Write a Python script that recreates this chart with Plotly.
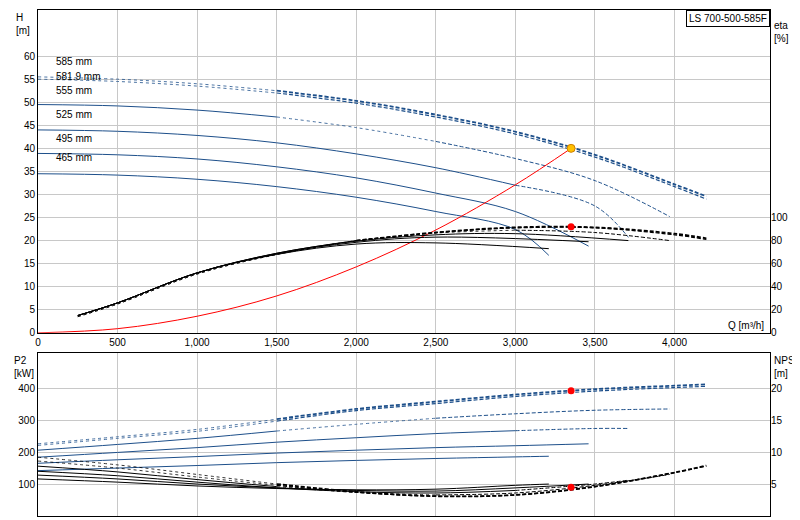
import plotly.graph_objects as go

Q = [0, 500, 1000, 1500, 2000, 2500, 3000, 3500, 4000]
diam = ["585 mm", "581.9 mm", "555 mm", "525 mm", "495 mm", "465 mm"]
q_end = [4200, 4200, 3970, 3710, 3460, 3210]
H = [
    [55.5, 55.0, 54.0, 52.5, 50.3, 47.3, 43.6, 38.6, 32.2, 29.6],
    [55.0, 54.5, 53.5, 52.0, 49.8, 46.8, 43.1, 38.1, 31.7, 29.0],
    [49.5, 49.2, 48.3, 46.8, 44.5, 41.5, 37.8, 33.0, 25.2],
    [44.0, 43.7, 42.8, 41.2, 38.8, 35.8, 32.0, 27.5, 20.7],
    [38.9, 38.6, 37.7, 36.0, 33.6, 30.3, 26.3, 18.8],
    [34.5, 34.2, 33.3, 31.7, 29.4, 26.3, 22.4, 16.8],
]
Q_eta = [250, 500, 1000, 1500, 2000, 2500, 3000, 3500, 4000]
ETA = [
    [14, 25, 51, 68, 80, 87, 91.5, 91.5, 86, 82],
    [14, 25, 51, 68, 80, 87, 91, 91, 85, 81],
    [15, 26, 52, 69, 80, 86.5, 89, 87, 80],
    [15, 26, 52, 69, 79.5, 85, 86, 80],
    [15, 26, 52, 68.5, 78.5, 83, 79],
    [15, 26, 52, 68, 77, 78, 73],
]
P2 = [
    [226, 248, 271, 303, 335, 358, 380, 397, 408, 412],
    [221, 243, 265, 297, 330, 352, 374, 391, 402, 406],
    [206, 224, 243, 266, 287, 306, 320, 331, 335],
    [184, 199, 214, 231, 245, 258, 267, 274, 274],
    [165, 176, 186, 197, 206, 214, 220, 226],
    [142, 150, 158, 167, 174, 180, 185, 187],
]
NPSH = [
    [9.2, 8.0, 6.5, 5.0, 3.8, 3.1, 3.3, 4.6, 6.8, 7.9],
    [8.6, 7.5, 6.1, 4.8, 3.7, 3.1, 3.3, 4.6, 6.8, 7.8],
    [7.8, 6.9, 5.7, 4.6, 3.7, 3.3, 3.6, 4.8, 6.5],
    [7.0, 6.3, 5.3, 4.4, 3.8, 3.6, 4.0, 5.0, 5.6],
    [6.4, 5.8, 5.0, 4.4, 4.0, 3.9, 4.4, 5.0],
    [5.8, 5.3, 4.7, 4.3, 4.1, 4.2, 4.8, 5.0],
]
Q_sys = [0, 500, 1000, 1500, 2000, 2500, 3000, 3350]
H_sys = [0, 0.9, 3.6, 8.0, 14.3, 22.3, 32.1, 40.0]
duty_q, duty_h, duty_eta, duty_p2, duty_npsh = 3350, 40.0, 92, 392, 4.5
label_h = [57.2, 53.9, 51.0, 45.8, 40.6, 36.3]

BLUE = "#1d4f8a"
DASH = "4px,2px"
styles = [
    [(3, "dot", 0.8), (None, DASH, 1.8)],
    [(3, "dot", 0.8), (None, DASH, 1.2)],
    [(3, "solid", 1), (5, "dot", 0.8), (None, DASH, 1)],
    [(6, "solid", 1), (None, DASH, 1)],
    [(None, "solid", 1)],
    [(None, "solid", 1)],
]

fig = go.Figure()

def add_segments(xs, ys, st, color, xa, ya):
    start = 0
    for end, dash, w in st:
        e = len(xs) - 1 if end is None else end
        fig.add_trace(go.Scatter(x=xs[start:e + 1], y=ys[start:e + 1], mode="lines",
                                 line=dict(color=color, dash=dash, width=w, shape="spline"),
                                 xaxis=xa, yaxis=ya, hoverinfo="skip", showlegend=False))
        start = e

for i in range(6):
    n = len(H[i])
    xs = Q[:n - 1] + [q_end[i]]
    add_segments(xs, H[i], styles[i], BLUE, "x", "y")
    ne = len(ETA[i])
    xe = Q_eta[:ne - 1] + [q_end[i]]
    st_e = [(s[0] + 1 if s[0] is not None else None, s[1], s[2]) for s in styles[i]]
    add_segments(xe, ETA[i], st_e, "black", "x", "y2")
    add_segments(xs, P2[i], styles[i], BLUE, "x2", "y3")
    add_segments(xs, NPSH[i], styles[i], "black", "x2", "y4")
    fig.add_annotation(x=100, y=label_h[i], text=diam[i], showarrow=False, xanchor="left",
                       yanchor="bottom", font=dict(size=10, color="black"), xref="x", yref="y")

fig.add_trace(go.Scatter(x=Q_sys, y=H_sys, mode="lines", line=dict(color="red", width=1, shape="spline"),
                         xaxis="x", yaxis="y", showlegend=False))
fig.add_trace(go.Scatter(x=[duty_q], y=[duty_h], mode="markers",
                         marker=dict(color="#ffc000", size=8, line=dict(color="#d08000", width=1)),
                         xaxis="x", yaxis="y", showlegend=False))
fig.add_trace(go.Scatter(x=[duty_q], y=[duty_eta], mode="markers", marker=dict(color="red", size=7),
                         xaxis="x", yaxis="y2", showlegend=False))
fig.add_trace(go.Scatter(x=[duty_q], y=[duty_p2], mode="markers", marker=dict(color="red", size=7),
                         xaxis="x2", yaxis="y3", showlegend=False))
fig.add_trace(go.Scatter(x=[duty_q], y=[duty_npsh], mode="markers", marker=dict(color="red", size=7),
                         xaxis="x2", yaxis="y4", showlegend=False))

ax = dict(showline=True, linecolor="black", mirror=True, gridcolor="#c8c8c8", zeroline=False,
          ticks="", tickfont=dict(size=10, color="black"))
fig.update_layout(
    width=800, height=520, margin=dict(l=30, r=38, t=2, b=12, autoexpand=False),
    plot_bgcolor="white", paper_bgcolor="white", font=dict(family="Liberation Sans, Arial", size=10),
    xaxis=dict(ax, range=[0, 4600], domain=[0, 1], anchor="y", tickvals=list(range(0, 4001, 500)),
               tickformat=",d", automargin=False),
    yaxis=dict(ax, range=[0, 70], domain=[0.362, 1], tickvals=list(range(0, 61, 5)), automargin=False),
    yaxis2=dict(ax, range=[0, 280], overlaying="y", side="right", anchor="x",
                tickvals=list(range(0, 101, 20)), showgrid=False, showline=False, automargin=False),
    xaxis2=dict(ax, range=[0, 4600], domain=[0, 1], anchor="y3", tickvals=list(range(0, 4001, 500)),
                showticklabels=False, automargin=False),
    yaxis3=dict(ax, range=[0, 510], domain=[0, 0.322], anchor="x2", tickvals=[100, 200, 300, 400],
                automargin=False),
    yaxis4=dict(ax, range=[0, 25.5], overlaying="y3", side="right", anchor="x2",
                tickvals=[5, 10, 15, 20], showgrid=False, showline=False, automargin=False),
)
anns = [
    dict(x=0, y=1, xref="paper", yref="paper", text="H<br>[m]", xanchor="right", yanchor="top", xshift=-6),
    dict(x=1, y=1, xref="paper", yref="paper", text="eta<br>[%]", xanchor="left", yanchor="top", yshift=-8, xshift=2),
    dict(x=1, y=0.362, xref="paper", yref="paper", text="Q [m³/h]", xanchor="right", yanchor="bottom", xshift=-4),
    dict(x=0, y=0.322, xref="paper", yref="paper", text="P2<br>[kW]", xanchor="right", yanchor="top", xshift=-2),
    dict(x=1, y=0.322, xref="paper", yref="paper", text="NPSH<br>[m]", xanchor="left", yanchor="top", xshift=2),
    dict(x=1, y=1, xref="paper", yref="paper", text="LS 700-500-585F", xanchor="right", yanchor="top",
         bordercolor="black", borderwidth=1, bgcolor="white", borderpad=2),
]
for a in anns:
    fig.add_annotation(showarrow=False, font=dict(size=10, color="black"), align="left", **a)

fig.write_html("out.html")
